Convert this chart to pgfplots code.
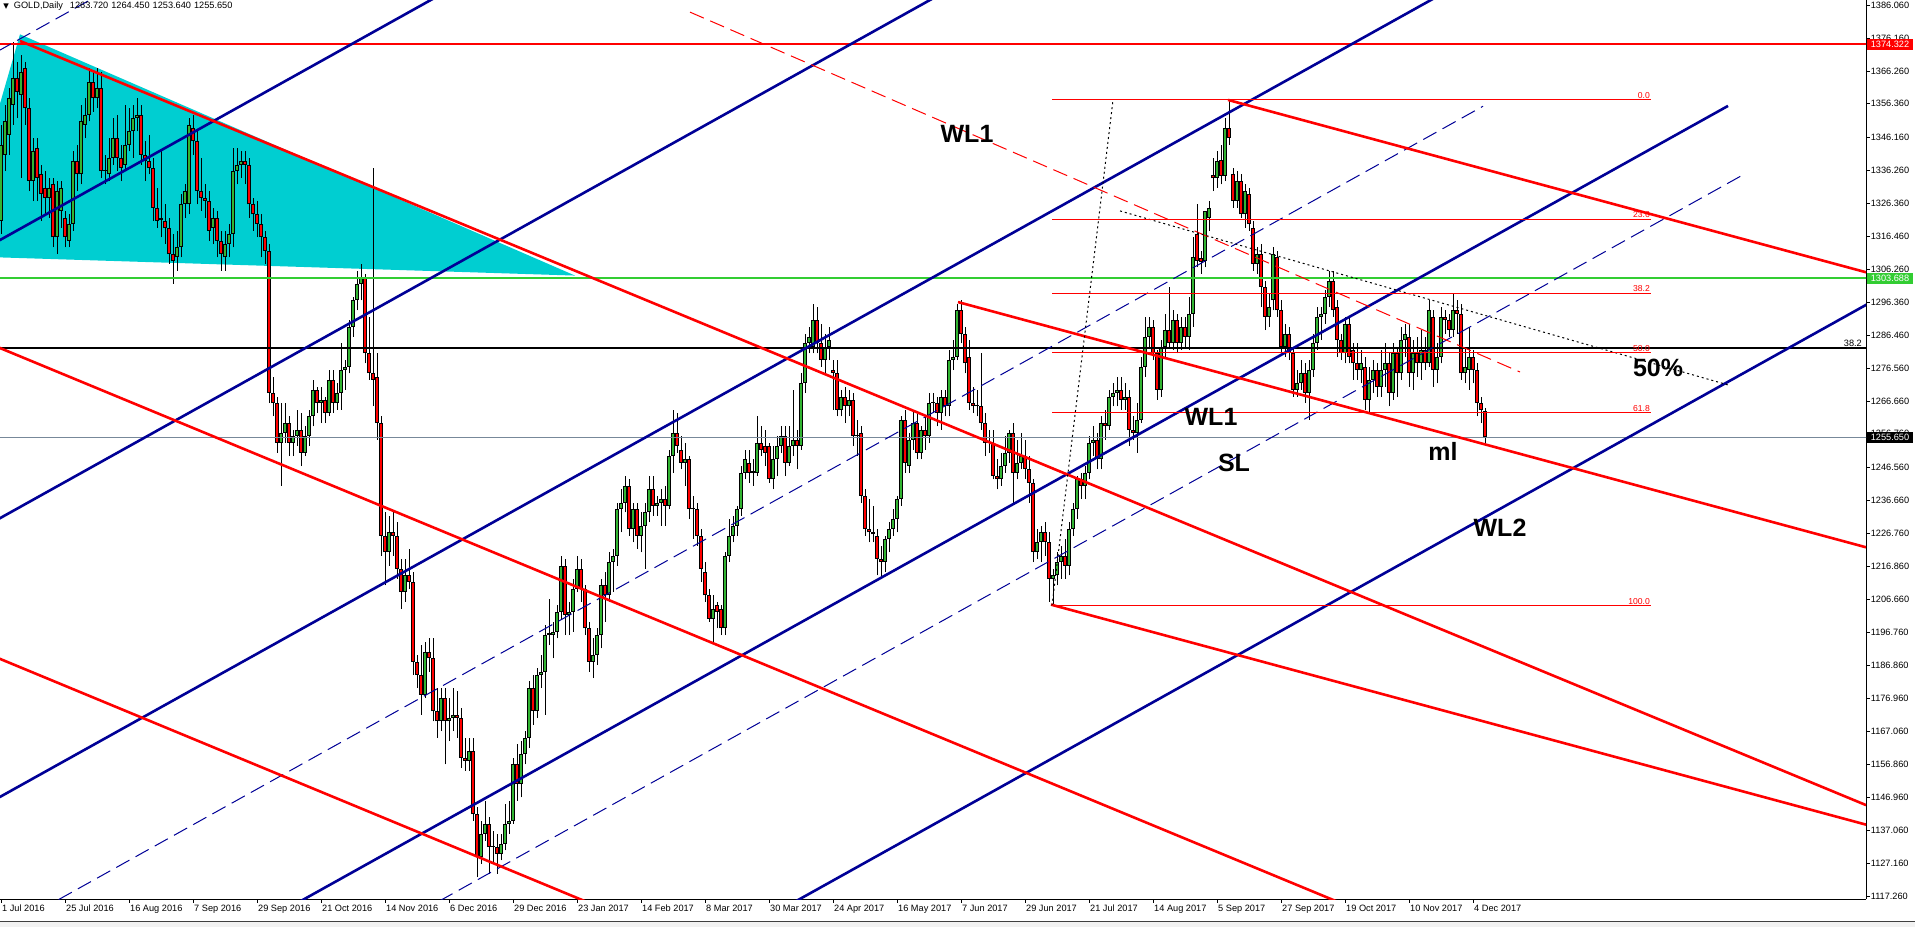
\documentclass[border=0pt]{standalone}
\usepackage{pgfplots}
\pgfplotsset{compat=1.18}
\usepackage{pgfplotstable}
\usepackage{fontspec}
\setmainfont{Liberation Sans}
\newfontfamily\dejavu{DejaVu Sans}

\definecolor{mtnavy}{RGB}{0,0,150}
\definecolor{mtgreen}{RGB}{50,205,50}
\definecolor{mtcyan}{RGB}{0,206,209}
\definecolor{upbody}{RGB}{50,180,50}
\definecolor{mtgray}{RGB}{119,136,153}
\newcommand\tickfont{\fontsize{4.6}{5.5}\selectfont}
\newcommand\bigfont{\fontsize{12.5}{14}\selectfont\bfseries}

% GOLD daily, 1 Jul 2016 .. 7 Dec 2017 (one row per bar)
\pgfplotstableread{
o h l c
1321 1350 1317 1344
1341 1356 1336 1351
1347 1361 1341 1358
1356 1375 1350 1364
1364 1369 1352 1360
1359 1371 1334 1366
1367 1369 1350 1355
1355 1358 1330 1333
1333 1346 1327 1342
1343 1346 1327 1334
1335 1338 1321 1329
1331 1336 1323 1328
1328 1334 1322 1331
1332 1334 1313 1316
1316 1333 1311 1330
1324 1333 1319 1331
1322 1324 1313 1316
1315 1323 1313 1320
1320 1342 1318 1339
1339 1344 1330 1335
1335 1356 1332 1351
1350 1358 1346 1353
1353 1367 1351 1363
1363 1366 1354 1358
1358 1367 1355 1361
1361 1366 1334 1336
1336 1341 1332 1336.4
1335 1346 1333 1340
1340 1352 1338 1346
1346 1353 1336 1340
1340 1344 1333 1337
1338 1356 1336 1344
1344 1355 1342 1348
1348 1356 1340 1352
1352 1358 1348 1353
1353 1356 1338 1341
1341 1345 1333 1339
1339 1347 1335 1337
1337 1340 1321 1325
1325 1331 1319 1321
1322 1342 1316 1321.4
1321 1326 1314 1319
1319 1322 1308 1311
1311 1317 1302 1309
1310 1318 1306 1313
1313 1329 1310 1326
1326 1332 1322 1330
1326 1352 1323 1350
1349 1353 1341 1345
1345 1348 1326 1330
1330 1340 1324 1328
1328 1332 1322 1327
1327 1330 1315 1318
1319 1325 1314 1322
1322 1324 1310 1315
1315 1318 1306 1311
1310 1318 1306 1314
1314 1320 1310 1317
1317 1343 1313 1336
1336 1343 1332 1338
1338 1342 1334 1339
1339 1342 1332 1338
1338 1340 1322 1326
1326 1328 1318 1323
1323 1327 1316 1320
1320 1323 1310 1316
1316 1318 1308 1312
1312 1314 1266 1269
1269 1274 1262 1266
1266 1268 1251 1254
1254 1266 1241 1257
1257 1266 1254 1260
1260 1262 1250 1254
1254 1258 1250 1256
1256 1264 1253 1258
1258 1263 1247 1251
1251 1259 1250 1256
1256 1264 1253 1262
1262 1273 1259 1270
1270 1271 1263 1266
1266 1271 1260 1267
1267 1268 1260 1263
1263 1276 1262 1273
1273 1276 1263 1266
1266 1272 1264 1269
1269 1284 1264 1276
1276 1279 1270 1277
1277 1291 1275 1289
1289 1298 1286 1297
1297 1306 1294 1302
1302 1308 1297 1304
1304 1305 1278 1281
1281 1292 1273 1275
1275 1337 1265 1273
1274 1281 1255 1260
1260 1262 1220 1226
1226 1233 1211 1221
1221 1232 1217 1227
1227 1233 1220 1226
1226 1230 1213 1216
1216 1219 1204 1209
1209 1219 1206 1214
1214 1222 1210 1212
1212 1215 1184 1188
1188 1190 1180 1184
1184 1193 1172 1178
1178 1194 1177 1191
1191 1195 1185 1189
1189 1195 1170 1173
1173 1180 1165 1170
1170 1180 1167 1177
1177 1180 1157 1170
1170 1177 1164 1171
1171 1180 1167 1172
1172 1179 1165 1171
1171 1174 1156 1159
1159 1165 1155 1158
1158 1165 1155 1161
1161 1165 1140 1142
1142 1144 1123 1129
1129 1140 1127 1136
1136 1146 1134 1139
1139 1141 1124 1132
1132 1137 1127 1132.4
1132 1136 1124 1130
1130 1136 1128 1133
1133 1145 1131 1139
1139 1146 1136 1140
1140 1159 1139 1157
1157 1163 1146 1151
1151 1164 1147 1160
1160 1167 1157 1165
1165 1182 1162 1180
1180 1184 1169 1173
1173 1186 1171 1184
1184 1190 1180 1185
1185 1199 1172 1196
1196 1207 1193 1196.5
1196 1200 1189 1197
1197 1205 1195 1203
1203 1220 1201 1217
1217 1219 1196 1202
1202 1206 1196 1203
1203 1213 1197 1210
1210 1220 1209 1216
1216 1219 1206 1210
1210 1211 1196 1198
1198 1200 1185 1188
1188 1195 1183 1190
1190 1198 1187 1196
1196 1213 1192 1211
1211 1215 1200 1208
1208 1221 1206 1218
1218 1222 1209 1220
1220 1236 1217 1234
1234 1240 1227 1236
1236 1244 1233 1241
1241 1243 1226 1228
1228 1236 1224 1234
1234 1236 1222 1226
1226 1233 1221 1229
1229 1236 1216 1233
1233 1244 1230 1240
1240 1244 1232 1235
1235 1238 1232 1236
1236 1240 1229 1237
1237 1241 1229 1235
1235 1252 1234 1250
1250 1264 1245 1257
1257 1263 1251 1253
1252 1256 1246 1248
1248 1254 1241 1249
1249 1250 1231 1234
1234 1238 1225 1234.4
1234 1236 1223 1226
1226 1228 1212 1216
1215 1218 1206 1208
1208 1210 1200 1201
1201 1208 1194 1204
1205 1206 1198 1203
1204 1205 1196 1198
1198 1221 1196 1220
1220 1231 1218 1226
1226 1232 1224 1229
1229 1235 1226 1234
1234 1247 1232 1245
1245 1252 1243 1249
1248 1252 1242 1245
1245 1249 1241 1245.4
1245 1262 1244 1254
1254 1259 1250 1252
1253 1258 1247 1251
1253 1254 1242 1243
1243 1253 1240 1249
1249 1256 1244 1253
1253 1259 1251 1256
1256 1259 1244 1248
1248 1259 1247 1253
1253 1270 1250 1255
1255 1258 1246 1253
1253 1275 1252 1272
1272 1287 1269 1284
1284 1289 1281 1286
1283 1296 1281 1291
1291 1295 1281 1284
1284 1290 1277 1279
1279 1287 1275 1283
1283 1289 1279 1285
1276 1279 1264 1275
1275 1279 1262 1264
1264 1270 1262 1268
1268 1271 1260 1265
1265 1270 1262 1267
1267 1269 1253 1256
1256 1261 1250 1256.4
1257 1259 1236 1238
1238 1240 1226 1228
1228 1237 1224 1227
1227 1235 1224 1226.4
1226 1228 1214 1219
1219 1223 1213 1218
1218 1226 1215 1225
1225 1230 1221 1228
1228 1234 1226 1231
1231 1238 1227 1237
1237 1262 1235 1261
1261 1264 1245 1248
1247 1257 1245 1255
1255 1264 1252 1260
1260 1263 1249 1251
1251 1259 1249 1258
1258 1262 1252 1256
1256 1269 1254 1266
1266 1269 1263 1266.4
1266 1268 1259 1263
1263 1270 1258 1268
1268 1270 1262 1265
1265 1282 1262 1279
1279 1285 1276 1280
1280 1296 1279 1294
1294 1297 1284 1287
1287 1289 1275 1278
1280 1285 1264 1266
1266 1271 1263 1265
1265 1270 1262 1265.4
1265 1281 1258 1260
1260 1263 1250 1254
1254 1258 1251 1254.4
1254 1258 1243 1244
1244 1249 1240 1243
1243 1251 1241 1247
1247 1256 1245 1251
1251 1258 1248 1257
1257 1260 1236 1245
1245 1255 1243 1248
1248 1257 1246 1250
1250 1255 1243 1246
1246 1250 1236 1242
1242 1243 1218 1221
1221 1228 1219 1224
1224 1229 1218 1227
1227 1230 1220 1224
1224 1227 1206 1213
1213 1216 1205 1214
1214 1221 1211 1218
1218 1223 1213 1220
1220 1225 1213 1217
1217 1230 1214 1228
1228 1236 1226 1234
1234 1244 1231 1243
1243 1245 1237 1241
1241 1247 1237 1245
1245 1256 1243 1254
1254 1259 1250 1255
1255 1257 1246 1249
1249 1262 1246 1260
1260 1264 1255 1259
1259 1270 1258 1268
1268 1272 1265 1269
1269 1274 1265 1270
1270 1274 1264 1267
1267 1272 1264 1268
1268 1270 1253 1258
1258 1262 1255 1257
1257 1266 1251 1261
1261 1280 1260 1277
1277 1292 1274 1286
1286 1292 1283 1289
1289 1291 1279 1281
1281 1282 1267 1270
1270 1285 1268 1283
1283 1293 1280 1288
1288 1301 1283 1284
1284 1294 1282 1291
1291 1293 1281 1284
1284 1292 1282 1289
1289 1292 1283 1286
1286 1298 1282 1293
1293 1316 1289 1310
1317 1326 1307 1309
1309.7 1312 1305 1308.7
1309 1324 1307 1324
1322 1327 1318 1325
1334.8 1340 1330 1333.8
1334 1342 1331 1339
1339.5 1344 1332 1334.5
1334.5 1352 1333 1349
1349 1357.5 1344 1346
1335 1337 1325 1327
1327 1336 1325 1333
1333 1335 1322 1323
1323 1332 1319 1330
1329 1331 1318 1320
1319 1321 1306 1308
1308 1313 1305 1311
1311 1314 1295 1301
1301 1303 1288 1292
1292 1299 1289 1295
1297 1313 1294 1311
1310 1312 1292 1294
1294 1297 1281 1283
1283 1290 1280 1287
1287 1289 1279 1281
1281 1283 1268 1270
1270 1276 1268 1272
1272 1279 1270 1275
1275 1278 1266 1269
1269 1279 1261 1276
1276 1287 1274 1284
1284 1295 1282 1292
1292 1295 1285 1293
1293 1300 1290 1298
1298 1306 1295 1303
1303 1306 1292 1294
1295 1297 1280 1285
1285 1287 1279 1281
1281 1292 1278 1290
1290 1292 1278 1280
1282 1284 1273 1278
1278 1284 1273 1276
1276 1282 1272 1278
1277 1280 1264 1267
1267 1277 1263 1273
1273 1279 1269 1276
1276 1278 1268 1271
1271 1282 1268 1276
1276 1284 1271 1278
1278 1281 1265 1269
1269 1284 1267 1281
1281 1283 1268 1275
1275 1289 1273 1285
1285 1290 1280 1287
1286 1290 1271 1275
1275 1285 1270 1281
1281 1286 1274 1278
1278 1288 1273 1282
1282 1286 1276 1278
1278 1297 1277 1294
1292 1294 1271 1276
1276 1284 1272 1280
1280 1295 1278 1292
1292 1294 1287 1291
1291 1293 1286 1288
1288 1299 1286 1294
1294 1297 1287 1293
1293 1296 1273 1275
1275 1283 1272 1277
1276 1289 1270 1280
1280 1282 1272 1276
1276 1278 1262 1266
1266 1268 1260 1264
1263.72 1264.45 1253.64 1255.65
}\gold

\begin{document}
\begin{tikzpicture}
\useasboundingbox (0pt,-14pt) rectangle (957.5pt,449.5pt);
\fill[black!5] (0pt,-14pt) rectangle (957.5pt,-11.35pt);
\draw[black!75, line width=0.5pt] (0pt,-11.35pt) -- (957.5pt,-11.35pt);
\begin{axis}[
    at={(0pt,0pt)}, anchor=south west,
    scale only axis, width=933pt, height=449.5pt,
    xmin=-0.25, xmax=466.25, ymin=1116.36, ymax=1387.66,
    axis x line*=bottom, axis y line*=right,
    axis line style={line width=0.5pt, black},
    tick align=outside, major tick length=1.8pt,
    tick style={line width=0.4pt, black},
    xtick={0,16,...,368},
    xticklabels={1 Jul 2016,25 Jul 2016,16 Aug 2016,7 Sep 2016,29 Sep 2016,21 Oct 2016,14 Nov 2016,6 Dec 2016,29 Dec 2016,23 Jan 2017,14 Feb 2017,8 Mar 2017,30 Mar 2017,24 Apr 2017,16 May 2017,7 Jun 2017,29 Jun 2017,21 Jul 2017,14 Aug 2017,5 Sep 2017,27 Sep 2017,19 Oct 2017,10 Nov 2017,4 Dec 2017},
    xticklabel style={anchor=north west, inner sep=0.4pt, font=\tickfont, yshift=-0.6pt},
    ytick={1386.06,1376.16,1366.26,1356.36,1346.16,1336.26,1326.36,1316.46,1306.26,1296.36,1286.46,1276.56,1266.66,1256.76,1246.56,1236.66,1226.76,1216.86,1206.66,1196.76,1186.86,1176.96,1167.06,1156.86,1146.96,1137.06,1127.16,1117.26},
    yticklabels={1386.060,1376.160,1366.260,1356.360,1346.160,1336.260,1326.360,1316.460,1306.260,1296.360,1286.460,1276.560,1266.660,1256.760,1246.560,1236.660,1226.760,1216.860,1206.660,1196.760,1186.860,1176.960,1167.060,1156.860,1146.960,1137.060,1127.160,1117.260},
    yticklabel style={anchor=west, inner sep=0.4pt, font=\tickfont},
    candle/.style={draw=none, mark=none, forget plot,
        error bars/y dir=plus, error bars/y explicit, error bars/error mark=none},
]
% filled triangle
\addplot[draw=none, fill=mtcyan, forget plot] coordinates {(-11.25,1310.4) (4.75,1377.3) (143.5,1304.5)} --cycle;

% candles: wicks, body outline, up bodies, down bodies
\addplot[candle, error bars/error bar style={draw=black, line width=0.5pt}]
    table[x expr=\coordindex, y=l, y error plus expr={\thisrow{h}-\thisrow{l}}] {\gold};
\addplot[candle, error bars/error bar style={draw=black, line width=1.75pt}]
    table[x expr=\coordindex, y expr={min(\thisrow{o},\thisrow{c})},
          y error plus expr={max(abs(\thisrow{c}-\thisrow{o}),0.3)}] {\gold};
\addplot[candle, error bars/error bar style={draw=upbody, line width=0.75pt, shorten <=0.5pt, shorten >=0.5pt}]
    table[x expr={\thisrow{c}-\thisrow{o} > 0.6 ? \coordindex : -50},
          y=o, y error plus expr={\thisrow{c}-\thisrow{o}}] {\gold};
\addplot[candle, error bars/error bar style={draw=red, line width=0.75pt, shorten <=0.5pt, shorten >=0.5pt}]
    table[x expr={\thisrow{o}-\thisrow{c} > 0.6 ? \coordindex : -50},
          y=c, y error plus expr={\thisrow{o}-\thisrow{c}}] {\gold};

% horizontal levels
\addplot[red, line width=1pt] coordinates {(-1,1374.322) (470,1374.322)};
\addplot[mtgreen, line width=1pt] coordinates {(-1,1303.688) (470,1303.688)};
\addplot[black, line width=1pt] coordinates {(-1,1282.7) (470,1282.7)};
\addplot[mtgray, line width=0.4pt] coordinates {(-1,1255.65) (470,1255.65)};

% channel lines
\addplot[mtnavy, line width=1.3pt] coordinates {(-20,1301.95) (120,1396.1)};
\addplot[mtnavy, line width=1.3pt] coordinates {(-20,1218.0) (250,1399.6)};
\addplot[mtnavy, line width=1.3pt] coordinates {(-20,1133.9) (380,1402.8)};
\addplot[mtnavy, line width=1.3pt] coordinates {(60,1105.7) (431.75,1355.7)};
\addplot[mtnavy, line width=1.3pt] coordinates {(180,1103.1) (480,1304.9)};
\addplot[mtnavy, line width=0.5pt, dash pattern=on 7.5pt off 3.5pt] coordinates {(-20,1359.3) (40,1399.6)};
\addplot[mtnavy, line width=0.5pt, dash pattern=on 7.5pt off 3.5pt] coordinates {(0,1106.5) (370.5,1355.6)};
\addplot[mtnavy, line width=0.5pt, dash pattern=on 7.5pt off 3.5pt] coordinates {(100,1109.3) (435.5,1334.9)};

\addplot[red, line width=1.3pt] coordinates {(4.75,1375.3) (466.25,1144.7)};
\addplot[red, line width=1.3pt] coordinates {(-20,1292.5) (350,1107.6)};
\addplot[red, line width=1.3pt] coordinates {(-20,1198.7) (170,1103.7)};
\addplot[red, line width=1.3pt] coordinates {(262.5,1205.2) (466.25,1138.8)};
\addplot[red, line width=1.3pt] coordinates {(239.25,1296.5) (466.25,1222.5)};
\addplot[red, line width=1.3pt] coordinates {(306.75,1357.5) (466.25,1305.5)};
\addplot[red, line width=0.5pt, dash pattern=on 7.5pt off 3.5pt] coordinates {(172.25,1384.0) (379.75,1275.4)};

\addplot[black, line width=0.5pt, dash pattern=on 1pt off 1.5pt] coordinates {(262.75,1204.9) (278,1357.5)};
\addplot[black, line width=0.5pt, dash pattern=on 1pt off 1.5pt] coordinates {(279.75,1324.0) (431.75,1271.5)};

% fibonacci levels
\addplot[red, line width=0.5pt] coordinates {(262.75,1357.5) (412.5,1357.5)};
\addplot[red, line width=0.5pt] coordinates {(262.75,1321.5) (412.5,1321.5)};
\addplot[red, line width=0.5pt] coordinates {(262.75,1299.2) (412.5,1299.2)};
\addplot[red, line width=0.5pt] coordinates {(262.75,1281.2) (412.5,1281.2)};
\addplot[red, line width=0.5pt] coordinates {(262.75,1263.2) (412.5,1263.2)};
\addplot[red, line width=0.5pt] coordinates {(262.75,1204.9) (412.5,1204.9)};

\begin{scope}[every node/.style={anchor=south east, text=red, inner sep=0.4pt, font=\fontsize{4.3}{5}\selectfont}]
\node at (axis cs:412.5,1357.5) {0.0};
\node at (axis cs:412.5,1321.5) {23.6};
\node at (axis cs:412.5,1299.2) {38.2};
\node at (axis cs:412.5,1281.2) {50.0};
\node at (axis cs:412.5,1263.2) {61.8};
\node at (axis cs:412.5,1204.9) {100.0};
\end{scope}
\node[anchor=south east, inner sep=0.4pt, font=\tickfont] at (axis cs:465.5,1282.7) {38.2};

\node[font=\bigfont] at (axis cs:241.5,1347.2) {WL1};
\node[font=\bigfont] at (axis cs:302.5,1261.8) {WL1};
\node[font=\bigfont] at (axis cs:308.25,1247.9) {SL};
\node[font=\bigfont] at (axis cs:360.5,1251.3) {ml};
\node[font=\bigfont] at (axis cs:374.75,1228.3) {WL2};
\node[font=\bigfont] at (axis cs:414.25,1276.6) {50\%};

\node[anchor=west, inner sep=0pt, font=\tickfont] at (rel axis cs:0.0016,0.9933)
  {{\dejavu\fontsize{3.6}{4}\selectfont ▼}\hspace{2.5pt}GOLD,Daily\hspace{3.5pt}1263.720\hspace{1.5pt}1264.450\hspace{1.5pt}1253.640\hspace{1.5pt}1255.650};

\coordinate (b1) at (axis cs:466.25,1374.322);
\coordinate (b2) at (axis cs:466.25,1303.688);
\coordinate (b3) at (axis cs:466.25,1255.65);
\end{axis}
\begin{scope}[every node/.style={anchor=west, text=white, inner sep=0pt, minimum width=23pt, minimum height=5.5pt, font=\tickfont, xshift=0.3pt}]
\node[fill=red] at (b1) {1374.322};
\node[fill=mtgreen] at (b2) {1303.688};
\node[fill=black] at (b3) {1255.650};
\end{scope}
\end{tikzpicture}
\end{document}
